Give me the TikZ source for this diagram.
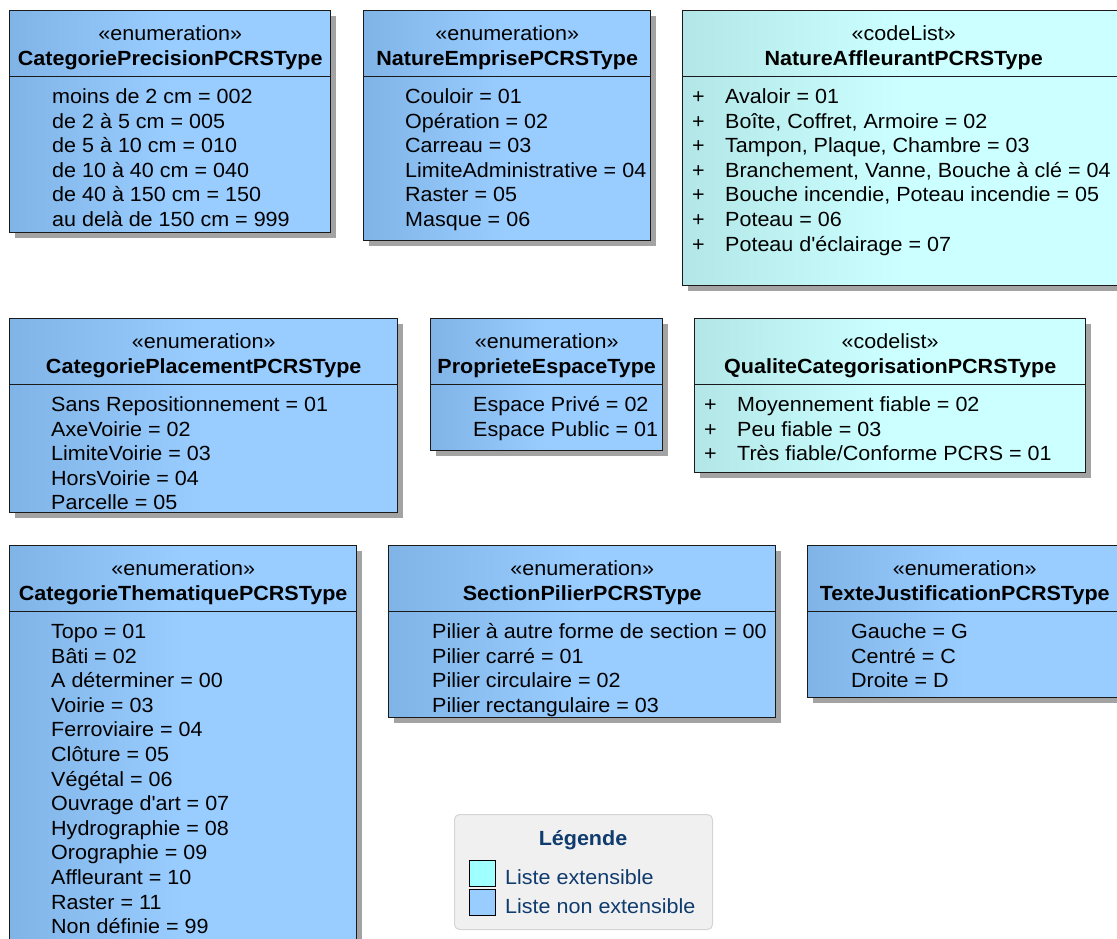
\documentclass[tikz,border=0pt]{standalone}
\usepackage{fontspec}
\setmainfont{Liberation Sans}[FakeStretch=1.05]
\usetikzlibrary{shadows}
\definecolor{enumdark}{HTML}{80B4E6}
\definecolor{enumlight}{HTML}{99CCFF}
\definecolor{codedark}{HTML}{B3E6E6}
\definecolor{codelight}{HTML}{CCFFFF}
\definecolor{boxline}{HTML}{1A1A1A}
\definecolor{legendtext}{HTML}{0F3B6E}
\definecolor{legendfill}{HTML}{F0F0F0}
\definecolor{legendline}{HTML}{D4D4D4}
\definecolor{swatchcyan}{HTML}{A0FFFF}

\begin{document}
\begin{tikzpicture}[x=1pt, y=-1pt,
        font=\fontsize{20.5}{24.6}\selectfont,
        classbox/.style={draw=boxline, line width=1.4pt, anchor=north west, inner sep=0pt,
            drop shadow={shadow xshift=5pt, shadow yshift=-5pt, fill=black!36, opacity=1}},
        enumbox/.style={classbox, left color=enumdark, right color=enumlight, middle color=enumlight},
        codebox/.style={classbox, left color=codedark, right color=codelight, middle color=codelight},
        boxhead/.style={anchor=north, inner sep=0pt, align=center},
        boxbody/.style={anchor=north west, inner sep=0pt, align=left},
        divider/.style={draw=boxline, line width=1pt},
        swatch/.style={draw=black, line width=1.2pt, anchor=north west, minimum size=26pt, inner sep=0pt},
        legendlabel/.style={anchor=west, inner sep=0pt, text=legendtext}]
            \useasboundingbox (0,0) rectangle (1117,938);
            \clip (0,0) rectangle (1117,938);

            \node[enumbox, minimum width=321pt, minimum height=222pt] (prec) at (9,10) {};
            \node[boxhead] (prech) at ([yshift=-13pt]prec.north) {\strut«enumeration»\\\textbf{CategoriePrecisionPCRSType}};
            \draw[divider] ([yshift=-66pt]prec.north west) -- ([yshift=-66pt]prec.north east);
            \node[boxbody] (precb) at ([xshift=43pt, yshift=-76pt]prec.north west) {\strut moins de 2 cm = 002\\de 2 à 5 cm = 005\\de 5 à 10 cm = 010\\de 10 à 40 cm = 040\\de 40 à 150 cm = 150\\au delà de 150 cm = 999};

            \node[enumbox, minimum width=287pt, minimum height=230pt] (emprise) at (363,10) {};
            \node[boxhead] (empriseh) at ([yshift=-13pt]emprise.north) {\strut«enumeration»\\\textbf{NatureEmprisePCRSType}};
            \draw[divider] ([yshift=-66pt]emprise.north west) -- ([yshift=-66pt]emprise.north east);
            \node[boxbody] (empriseb) at ([xshift=42pt, yshift=-76pt]emprise.north west) {\strut Couloir = 01\\Opération = 02\\Carreau = 03\\LimiteAdministrative = 04\\Raster = 05\\Masque = 06};

            \node[codebox, minimum width=442pt, minimum height=275pt] (affleurant) at (682,10) {};
            \node[boxhead] (affleuranth) at ([yshift=-13pt]affleurant.north) {\strut«codeList»\\\textbf{NatureAffleurantPCRSType}};
            \draw[divider] ([yshift=-66pt]affleurant.north west) -- ([yshift=-66pt]affleurant.north east);
            \node[boxbody] (affleurantb) at ([xshift=10pt, yshift=-76pt]affleurant.north west) {\strut\makebox[33pt][l]{+}Avaloir = 01\\\makebox[33pt][l]{+}Boîte, Coffret, Armoire = 02\\\makebox[33pt][l]{+}Tampon, Plaque, Chambre = 03\\\makebox[33pt][l]{+}Branchement, Vanne, Bouche à clé = 04\\\makebox[33pt][l]{+}Bouche incendie, Poteau incendie = 05\\\makebox[33pt][l]{+}Poteau = 06\\\makebox[33pt][l]{+}Poteau d\textquotesingle éclairage = 07};

            \node[enumbox, minimum width=388pt, minimum height=194pt] (placement) at (9,318) {};
            \node[boxhead] (placementh) at ([yshift=-13pt]placement.north) {\strut«enumeration»\\\textbf{CategoriePlacementPCRSType}};
            \draw[divider] ([yshift=-66pt]placement.north west) -- ([yshift=-66pt]placement.north east);
            \node[boxbody] (placementb) at ([xshift=42pt, yshift=-76pt]placement.north west) {\strut Sans Repositionnement = 01\\AxeVoirie = 02\\LimiteVoirie = 03\\HorsVoirie = 04\\Parcelle = 05};

            \node[enumbox, minimum width=232pt, minimum height=132pt] (propriete) at (430,318) {};
            \node[boxhead] (proprieteh) at ([yshift=-13pt]propriete.north) {\strut«enumeration»\\\textbf{ProprieteEspaceType}};
            \draw[divider] ([yshift=-66pt]propriete.north west) -- ([yshift=-66pt]propriete.north east);
            \node[boxbody] (proprieteb) at ([xshift=43pt, yshift=-76pt]propriete.north west) {\strut Espace Privé = 02\\Espace Public = 01};

            \node[codebox, minimum width=391pt, minimum height=154pt] (qualite) at (694,318) {};
            \node[boxhead] (qualiteh) at ([yshift=-13pt]qualite.north) {\strut«codelist»\\\textbf{QualiteCategorisationPCRSType}};
            \draw[divider] ([yshift=-66pt]qualite.north west) -- ([yshift=-66pt]qualite.north east);
            \node[boxbody] (qualiteb) at ([xshift=10pt, yshift=-76pt]qualite.north west) {\strut\makebox[33pt][l]{+}Moyennement fiable = 02\\\makebox[33pt][l]{+}Peu fiable = 03\\\makebox[33pt][l]{+}Très fiable/Conforme PCRS = 01};

            \node[enumbox, minimum width=347pt, minimum height=400pt] (thematique) at (9,545) {};
            \node[boxhead] (thematiqueh) at ([yshift=-13pt]thematique.north) {\strut«enumeration»\\\textbf{CategorieThematiquePCRSType}};
            \draw[divider] ([yshift=-66pt]thematique.north west) -- ([yshift=-66pt]thematique.north east);
            \node[boxbody] (thematiqueb) at ([xshift=42pt, yshift=-76pt]thematique.north west) {\strut Topo = 01\\Bâti = 02\\A déterminer = 00\\Voirie = 03\\Ferroviaire = 04\\Clôture = 05\\Végétal = 06\\Ouvrage d\textquotesingle art = 07\\Hydrographie = 08\\Orographie = 09\\Affleurant = 10\\Raster = 11\\Non définie = 99};

            \node[enumbox, minimum width=387pt, minimum height=172pt] (section) at (388,545) {};
            \node[boxhead] (sectionh) at ([yshift=-13pt]section.north) {\strut«enumeration»\\\textbf{SectionPilierPCRSType}};
            \draw[divider] ([yshift=-66pt]section.north west) -- ([yshift=-66pt]section.north east);
            \node[boxbody] (sectionb) at ([xshift=44pt, yshift=-76pt]section.north west) {\strut Pilier à autre forme de section = 00\\Pilier carré = 01\\Pilier circulaire = 02\\Pilier rectangulaire = 03};

            \node[enumbox, minimum width=314pt, minimum height=152pt] (justif) at (807,545) {};
            \node[boxhead] (justifh) at ([yshift=-13pt]justif.north) {\strut«enumeration»\\\textbf{TexteJustificationPCRSType}};
            \draw[divider] ([yshift=-66pt]justif.north west) -- ([yshift=-66pt]justif.north east);
            \node[boxbody] (justifb) at ([xshift=44pt, yshift=-76pt]justif.north west) {\strut Gauche = G\\Centré = C\\Droite = D};

            \node[draw=legendline, fill=legendfill, line width=1pt, rounded corners=5pt, anchor=north west, minimum width=258pt, minimum height=115pt] (legend) at (454,814) {};
            \node[text=legendtext, inner sep=0pt] (legendt) at (583,840) {\textbf{Légende}};
            \node[swatch, fill=swatchcyan] (extsw) at (469,860) {};
            \node[legendlabel] (extl) at (505,877) {Liste extensible};
            \node[swatch, fill=enumlight] (nonextsw) at (469,889) {};
            \node[legendlabel] (nonextl) at (505,906) {Liste non extensible};
        \end{tikzpicture}
\end{document}
